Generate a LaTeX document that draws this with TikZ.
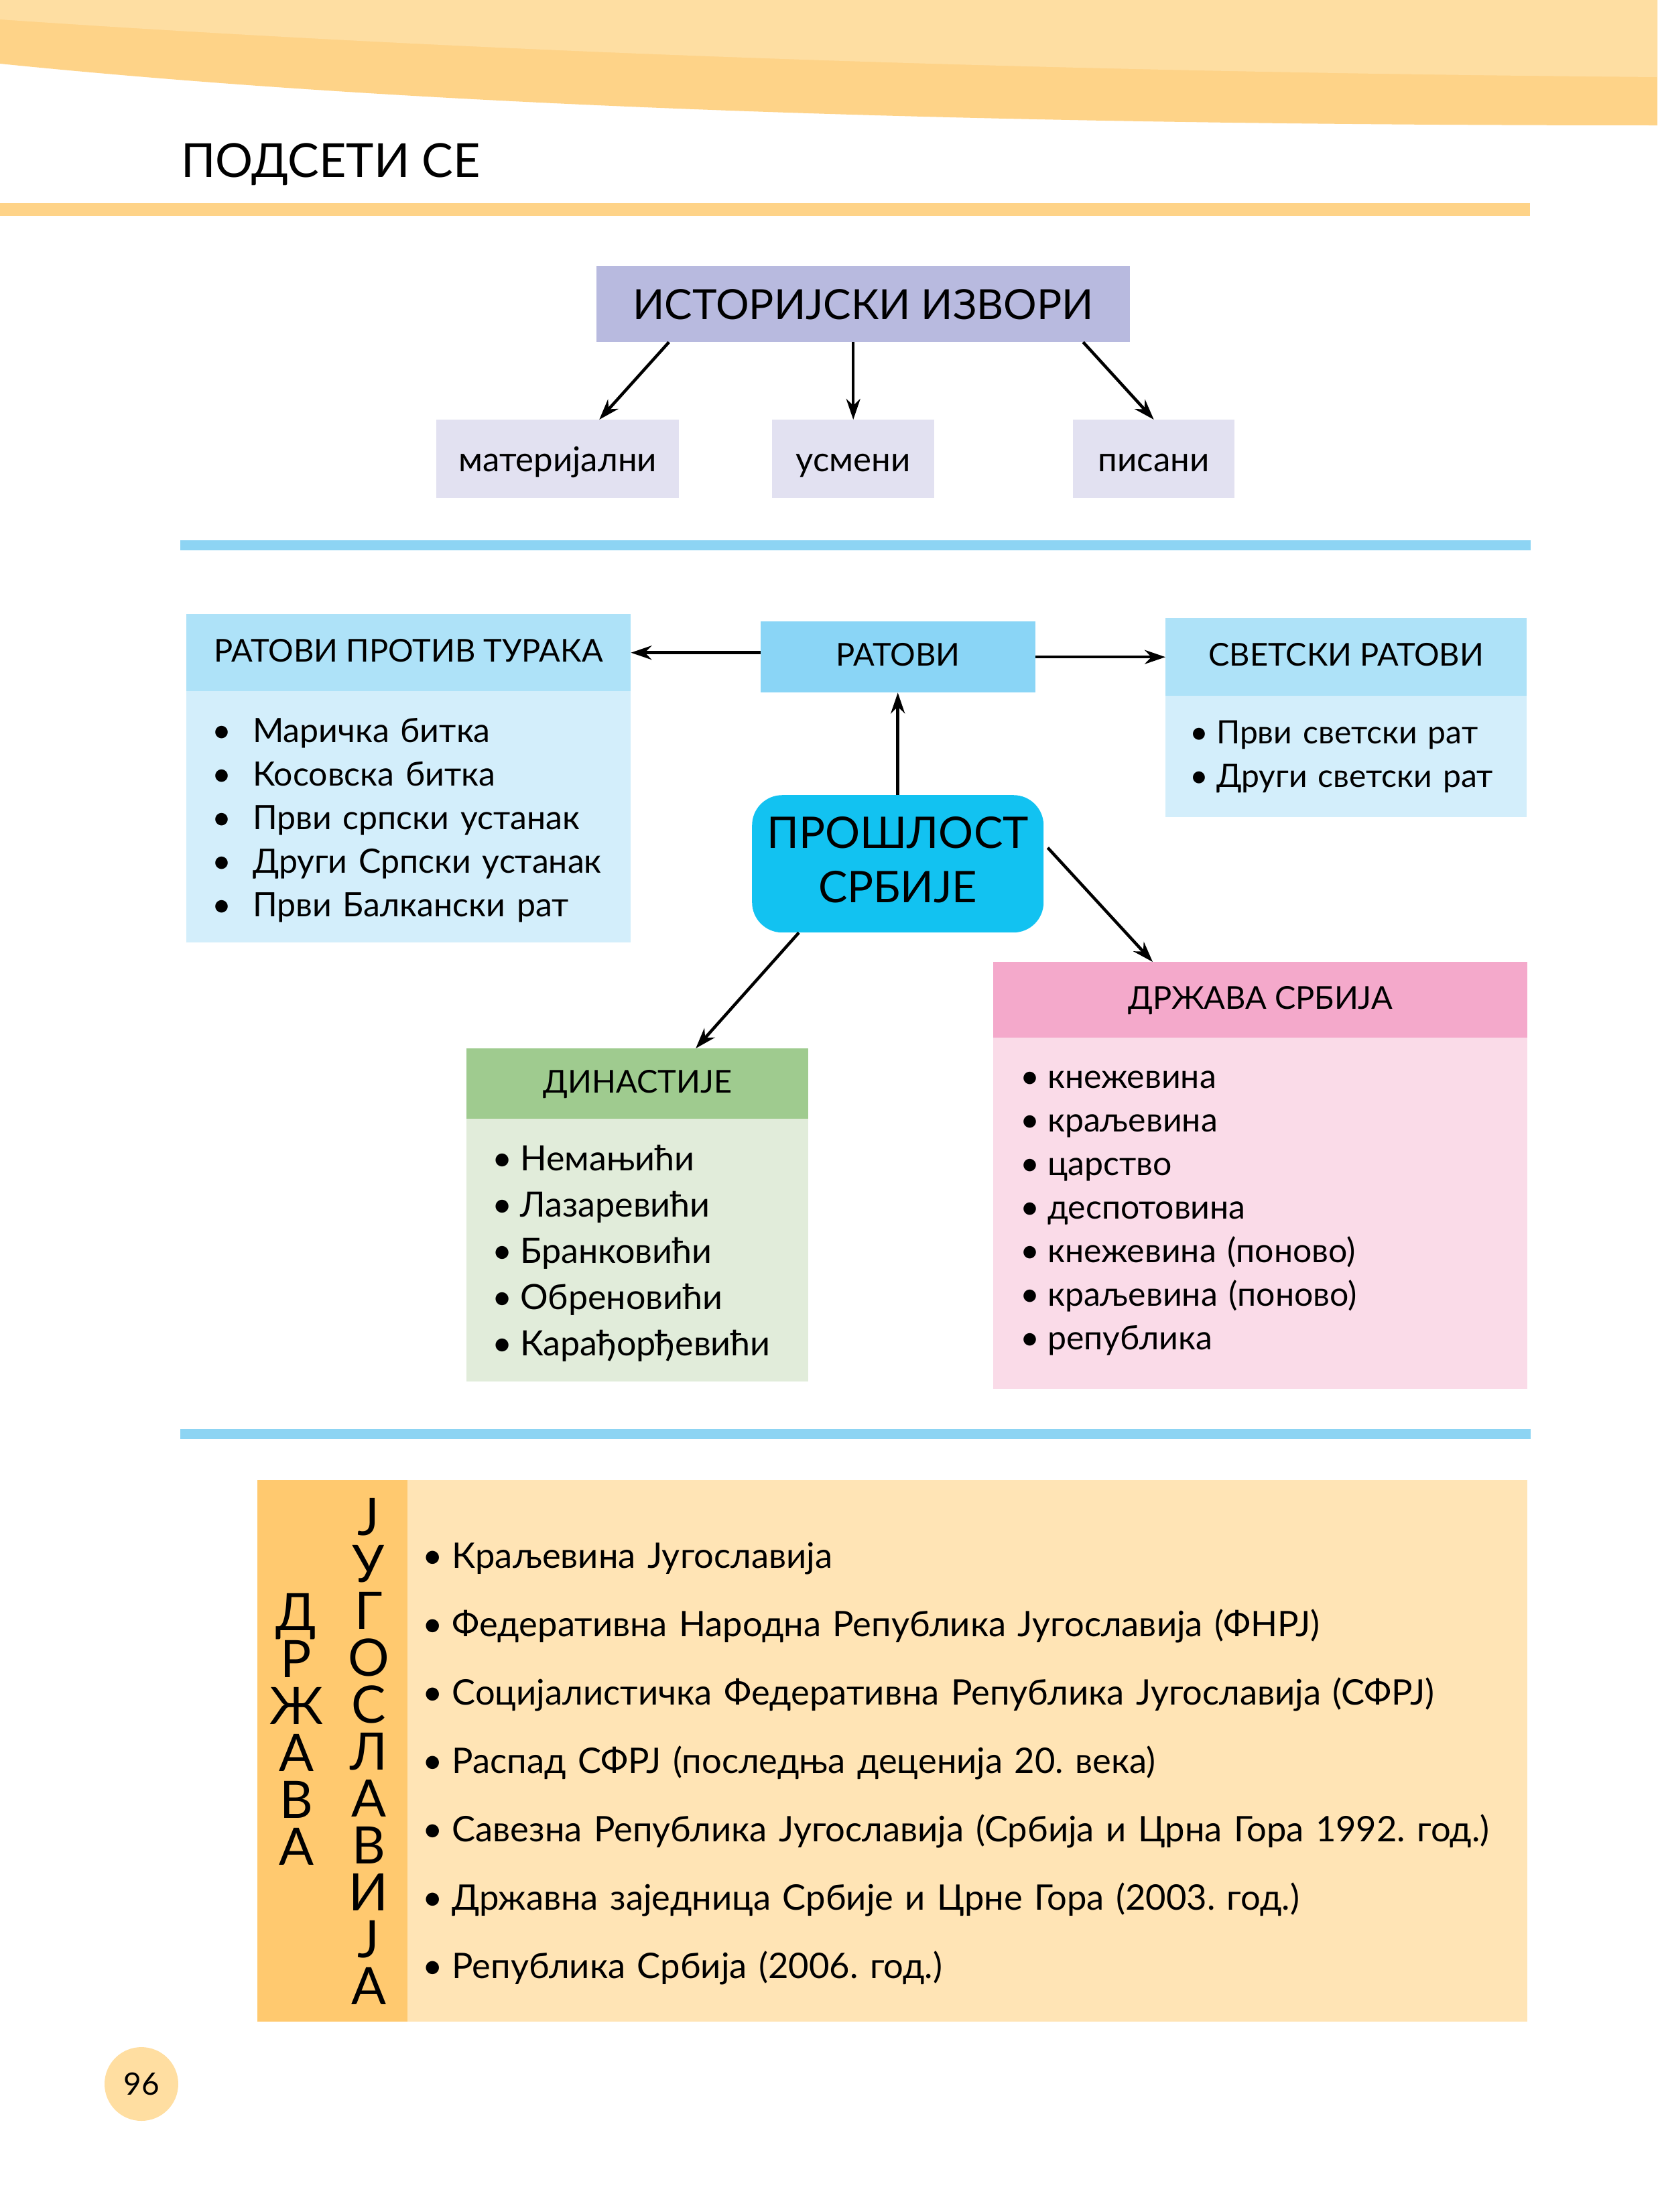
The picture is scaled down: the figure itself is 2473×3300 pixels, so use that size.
\documentclass[tikz,border=0pt]{standalone}
\usepackage{fontspec}
\setmainfont{Lato}
\usetikzlibrary{arrows.meta,calc}
\frenchspacing

\definecolor{wavelight}{HTML}{FEDEA2}
\definecolor{wavedark}{HTML}{FED388}
\definecolor{lilac}{HTML}{B8BADF}
\definecolor{lilaclight}{HTML}{E2E1F1}
\definecolor{rulesky}{HTML}{8DD4F3}
\definecolor{skyhead}{HTML}{AEE2F8}
\definecolor{skybody}{HTML}{D3EEFB}
\definecolor{skymid}{HTML}{8AD5F6}
\definecolor{cyanbox}{HTML}{12C2F1}
\definecolor{greenhead}{HTML}{9FCB8F}
\definecolor{greenbody}{HTML}{E1ECDA}
\definecolor{pinkhead}{HTML}{F4A9CB}
\definecolor{pinkbody}{HTML}{FADBE8}
\definecolor{ambstrip}{HTML}{FFC96F}
\definecolor{ambbody}{HTML}{FFE4B5}
\definecolor{pagecirc}{HTML}{FFDEA1}

\newcommand\bl[1][20pt]{\textbullet\hspace{#1}}

\tikzset{
  box/.style={rectangle,inner sep=0pt,anchor=north west},
  head/.style={box,minimum height=#1,text height=34pt,text depth=7pt,
    font=\fontsize{47}{56}\selectfont},
  sub/.style={box,fill=lilaclight,minimum height=117pt,text height=38pt,
    text depth=0pt,font=\fontsize{51}{60}\selectfont},
  list/.style={box,align=left,font=\fontsize{50}{65}\selectfont},
  arr/.style={-{Stealth[length=31pt,width=21pt]},line width=4.5pt}
}

\begin{document}
\begin{tikzpicture}[x=1pt,y=-1pt]
\useasboundingbox (0,0) rectangle (2473,3300);

\fill[wavedark] (0,0) -- (2473,0) -- (2473,187)
  .. controls (1400,187) and (600,156) .. (0,95) -- cycle;
\fill[wavelight] (0,0) -- (2473,0) -- (2473,115)
  .. controls (1400,106) and (600,70) .. (0,29) -- cycle;
\fill[wavedark] (0,303) rectangle (2283,322);
\fill[rulesky] (269,806) rectangle (2284,821);
\fill[rulesky] (269,2132) rectangle (2284,2147);

\node[anchor=base west,inner sep=0pt,font=\fontsize{70}{84}\selectfont]
  (title) at (270,264) {ПОДСЕТИ СЕ};

\node[box,fill=lilac,minimum width=796pt,minimum height=113pt,
  text height=45pt,text depth=0pt,font=\fontsize{62}{75}\selectfont]
  (izvori) at (890,397) {ИСТОРИЈСКИ ИЗВОРИ};
\node[sub,minimum width=362pt] (mat) at (651,626) {материјални};
\node[sub,minimum width=242pt] (usm) at (1152,626) {усмени};
\node[sub,minimum width=241pt] (pis) at (1601,626) {писани};

\draw[arr] ($(izvori.south)+(-290,0)$) -- ($(mat.north)+(62,0)$);
\draw[arr] (izvori.south -| usm.north) -- (usm.north);
\draw[arr] ($(izvori.south)+(328,0)$) -- (pis.north);

\node[head=106pt,fill=skymid,minimum width=410pt] (ratovi) at (1135,927) {РАТОВИ};
\node[head=115pt,fill=skyhead,minimum width=663pt] (turci) at (278,916)
  {РАТОВИ ПРОТИВ ТУРАКА};
\node[list,fill=skybody,minimum height=375pt,inner xsep=38pt,text width=587pt]
  (turcilst) at (278,1031)
  {\rule{0pt}{46pt}\bl[32pt]Маричка битка\\
   \bl[32pt]Косовска битка\\
   \bl[32pt]Први српски устанак\\
   \bl[32pt]Други Српски устанак\\
   \bl[32pt]Први Балкански рат};
\node[head=116pt,fill=skyhead,minimum width=539pt] (svet) at (1739,922)
  {СВЕТСКИ РАТОВИ};
\node[list,fill=skybody,minimum height=181pt,inner xsep=36pt,text width=467pt,
  font=\fontsize{48}{65}\selectfont]
  (svetlst) at (1739,1038)
  {\bl[12pt]Први светски рат\\
   \bl[12pt]Други светски рат};

\node[box,fill=cyanbox,rounded corners=45pt,minimum width=435pt,
  minimum height=205pt,align=center,font=\fontsize{65}{81}\selectfont]
  (proslost) at (1122,1186) {ПРОШЛОСТ\\СРБИЈЕ\rule[-12pt]{0pt}{0pt}};

\node[head=105pt,fill=greenhead,minimum width=510pt] (din) at (696,1564)
  {ДИНАСТИЈЕ};
\node[list,fill=greenbody,minimum height=392pt,inner xsep=38pt,text width=434pt,
  font=\fontsize{52}{69}\selectfont]
  (dinlst) at (696,1669)
  {\rule{0pt}{48pt}\bl[12pt]Немањићи\\
   \bl[12pt]Лазаревићи\\
   \bl[12pt]Бранковићи\\
   \bl[12pt]Обреновићи\\
   \bl[12pt]Карађорђевићи};
\node[head=113pt,fill=pinkhead,minimum width=797pt] (drz) at (1482,1435)
  {ДРЖАВА СРБИЈА};
\node[list,fill=pinkbody,minimum height=524pt,inner xsep=40pt,text width=717pt]
  (drzlst) at (1482,1548)
  {\bl[12pt]кнежевина\\
   \bl[12pt]краљевина\\
   \bl[12pt]царство\\
   \bl[12pt]деспотовина\\
   \bl[12pt]кнежевина (поново)\\
   \bl[12pt]краљевина (поново)\\
   \bl[12pt]република};

\draw[arr] (ratovi.west |- turci.east) -- (turci.east);
\draw[arr] (ratovi.east) -- (svet.west);
\draw[arr] (proslost.north) -- (proslost.north |- ratovi.south);
\draw[arr] ($(proslost.east)+(6,-24)$) -- ($(drz.north west)+(238,0)$);
\draw[arr] ($(proslost.south west)+(70,0)$) -- ($(din.north)+(87,0)$);

\node[box,fill=ambstrip,minimum width=224pt,minimum height=808pt]
  (jugostrip) at (384,2208) {};
\node[list,fill=ambbody,minimum width=1671pt,minimum height=808pt,
  inner xsep=22pt,text width=1627pt,font=\fontsize{52.5}{102}\selectfont]
  (jugolst) at (608,2208)
  {\rule{0pt}{76pt}\bl[14pt]Краљевина Југославија\\
   \bl[14pt]Федеративна Народна Република Југославија (ФНРЈ)\\
   \bl[14pt]Социјалистичка Федеративна Република Југославија (СФРЈ)\\
   \bl[14pt]Распад СФРЈ (последња деценија 20. века)\\
   \bl[14pt]Савезна Република Југославија (Србија и Црна Гора 1992. год.)\\
   \bl[14pt]Државна заједница Србије и Црне Гора (2003. год.)\\
   \bl[14pt]Република Србија (2006. год.)};
\node[align=center,inner sep=0pt,font=\fontsize{77}{70}\selectfont]
  (drzava) at (442,2580) {Д\\Р\\Ж\\А\\В\\А};
\node[align=center,inner sep=0pt,font=\fontsize{77}{70}\selectfont]
  (jugoslavija) at (550,2613) {Ј\\У\\Г\\О\\С\\Л\\А\\В\\И\\Ј\\А};

\node[circle,fill=pagecirc,minimum size=110pt,inner sep=0pt,
  font=\fontsize{46}{54}\selectfont] (page) at (211,3109) {96};
\end{tikzpicture}
\end{document}
